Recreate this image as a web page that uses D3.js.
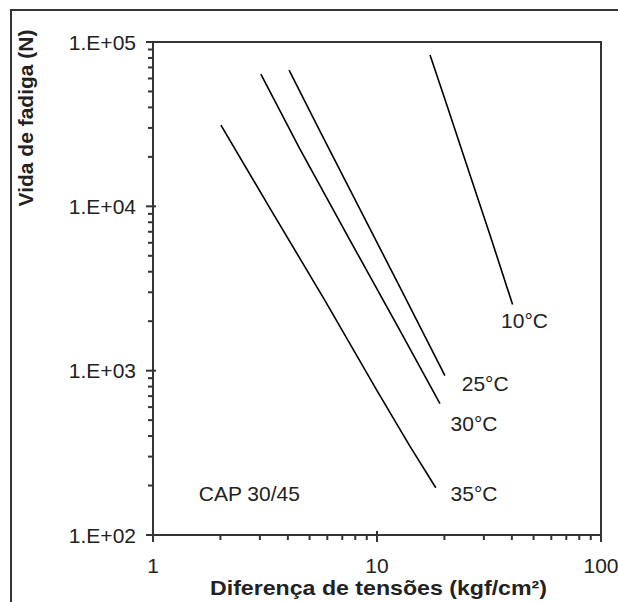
<!DOCTYPE html>
<html>
<head>
<meta charset="utf-8">
<script src="https://cdn.jsdelivr.net/npm/d3@7"></script>
<style>
  body { margin: 0; background: #fff; }
  text { font-family: "Liberation Sans", Arial, sans-serif; fill: #222; }
</style>
</head>
<body>
<svg id="chart" width="618" height="602"></svg>
<script>
// curves (stress difference, fatigue life)
var curve10 = [[17.25, 83300], [20.5, 41300], [26.2, 15100], [32.0, 6650], [40.3, 2525]];
var curve25 = [[4.05, 67400], [5.57, 28600], [8.40, 9590], [12.67, 3210], [20.1, 933]];
var curve30 = [[3.03, 63800], [4.53, 22300], [7.58, 6210], [12.67, 1754], [19.1, 630]];
var curve35 = [[2.01, 31200], [3.33, 9720], [5.86, 2670], [10.0, 755], [14.0, 349], [18.3, 194]];
var curveNames = ["10°C", "25°C", "30°C", "35°C"];
var xTicks = [1, 10, 100];
var xTickLabels = ["1", "10", "100"];
var yTicks = [100, 1000, 10000, 100000];
var yTickLabels = ["1.E+02", "1.E+03", "1.E+04", "1.E+05"];

var margin = {top: 42, right: 17, bottom: 67, left: 153},
    width = 618 - margin.left - margin.right,
    height = 602 - margin.top - margin.bottom;

var svg = d3.select("#chart");

// outer frame
svg.append("rect")
  .attr("x", 11).attr("y", 10)
  .attr("width", 640).attr("height", 640)
  .attr("fill", "none").attr("stroke", "#333").attr("stroke-width", 2);

var x = d3.scaleLog().domain([1, 100]).range([0, width]);
var y = d3.scaleLog().domain([100, 100000]).range([height, 0]);

var g = svg.append("g")
  .attr("transform", "translate(" + margin.left + "," + margin.top + ")");

// minor ticks
var xMinor = [], yMinor = [];
[1, 10].forEach(function(d) { for (var k = 2; k < 10; k++) xMinor.push(d * k); });
[100, 1000, 10000].forEach(function(d) { for (var k = 2; k < 10; k++) yMinor.push(d * k); });

g.selectAll(".xminor").data(xMinor).enter().append("line")
  .attr("x1", function(d) { return x(d); }).attr("x2", function(d) { return x(d); })
  .attr("y1", height).attr("y2", height + 5)
  .attr("stroke", "#333").attr("stroke-width", 2);
g.selectAll(".xmajor").data(xTicks).enter().append("line")
  .attr("x1", function(d) { return x(d); }).attr("x2", function(d) { return x(d); })
  .attr("y1", height - 4).attr("y2", height + 7)
  .attr("stroke", "#333").attr("stroke-width", 2);
g.selectAll(".yminor").data(yMinor).enter().append("line")
  .attr("y1", function(d) { return y(d); }).attr("y2", function(d) { return y(d); })
  .attr("x1", -5).attr("x2", 0)
  .attr("stroke", "#333").attr("stroke-width", 2);
g.selectAll(".ymajor").data(yTicks).enter().append("line")
  .attr("y1", function(d) { return y(d); }).attr("y2", function(d) { return y(d); })
  .attr("x1", -7).attr("x2", 3)
  .attr("stroke", "#333").attr("stroke-width", 2);

// plot box
g.append("path")
  .attr("d", "M0,0V" + height + "H" + width + "V0H0")
  .attr("fill", "none").attr("stroke", "#333").attr("stroke-width", 2);

g.selectAll(".xlab").data(xTicks).enter().append("text")
  .attr("x", function(d) { return x(d); })
  .attr("y", height + 38)
  .attr("text-anchor", "middle")
  .style("font-size", "21px")
  .text(function(d, i) { return xTickLabels[i]; });

g.selectAll(".ylab").data(yTicks).enter().append("text")
  .attr("x", -17)
  .attr("y", function(d) { return y(d); })
  .attr("dy", "0.36em")
  .attr("text-anchor", "end")
  .style("font-size", "21px")
  .text(function(d, i) { return yTickLabels[i]; });

// axis titles
svg.append("text")
  .attr("x", 210).attr("y", 595)
  .attr("textLength", 337)
  .attr("lengthAdjust", "spacingAndGlyphs")
  .style("font-size", "21px").style("font-weight", "bold")
  .text("Diferença de tensões (kgf/cm²)");
svg.append("text")
  .attr("transform", "translate(33,118) rotate(-90)")
  .attr("text-anchor", "middle")
  .style("font-size", "21px").style("font-weight", "bold")
  .text("Vida de fadiga (N)");

// curves
var line = d3.line()
  .x(function(d) { return x(d[0]); })
  .y(function(d) { return y(d[1]); });

[curve10, curve25, curve30, curve35].forEach(function(c) {
  g.append("path")
    .datum(c)
    .attr("d", line)
    .attr("fill", "none")
    .attr("stroke", "#000")
    .attr("stroke-width", 1.6);
});

// curve labels
var labelPos = [[35.8, 1828], [23.9, 755], [21.3, 427], [21.3, 161]];
g.selectAll(".clab").data(curveNames).enter().append("text")
  .attr("x", function(d, i) { return x(labelPos[i][0]); })
  .attr("y", function(d, i) { return y(labelPos[i][1]); })
  .style("font-size", "21px")
  .text(function(d) { return d; });

g.append("text")
  .attr("x", x(1.6)).attr("y", y(161))
  .style("font-size", "21px")
  .text("CAP 30/45");
</script>
</body>
</html>
